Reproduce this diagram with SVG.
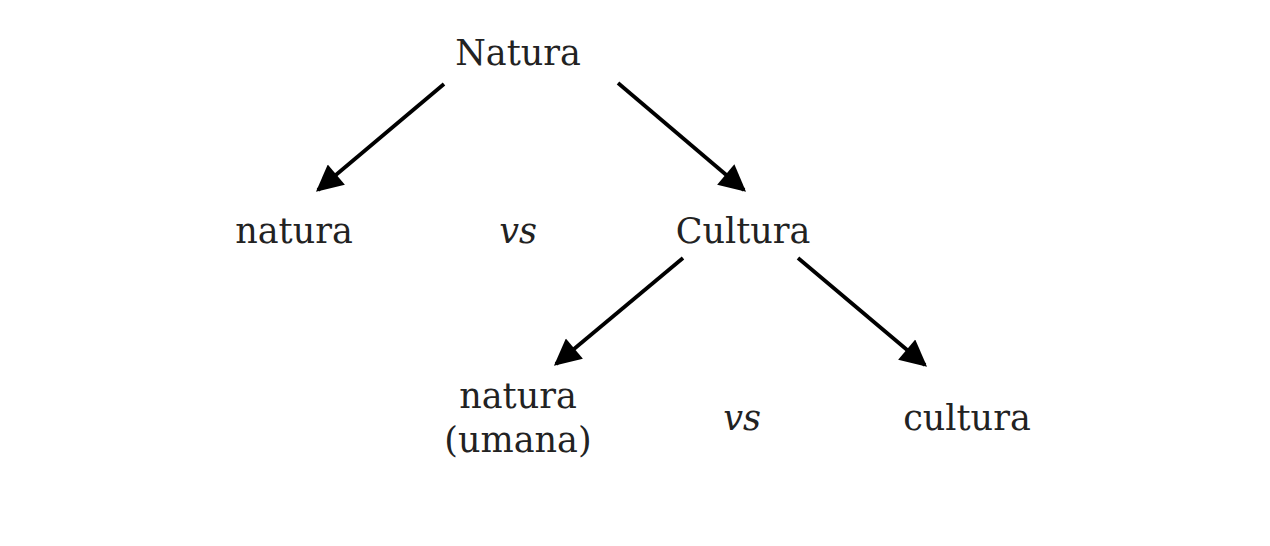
<svg xmlns="http://www.w3.org/2000/svg" width="1270" height="546" viewBox="0 0 1270 546">
<style>
text{font-family:"DejaVu Serif",serif;font-size:35px;fill:#222;text-anchor:middle}
.i{font-style:italic}
.c{stroke:#000;stroke-width:3.8;fill:none}
</style>
<defs>
<marker id="ah" viewBox="0 0 10 10" refX="9" refY="5" markerWidth="7.5" markerHeight="7" markerUnits="strokeWidth" orient="auto">
<path d="M0,0 L10,5 L0,10 z" fill="#000"/>
</marker>
</defs>
<rect width="1270" height="546" fill="#fff"/>
<g id="connectors">
<line class="c" x1="444" y1="84" x2="318" y2="190" marker-end="url(#ah)"/>
<line class="c" x1="618" y1="83" x2="744" y2="190" marker-end="url(#ah)"/>
<line class="c" x1="683" y1="258" x2="556" y2="364" marker-end="url(#ah)"/>
<line class="c" x1="798" y1="258" x2="925" y2="365" marker-end="url(#ah)"/>
</g>
<g id="n-Natura"><text x="518" y="65">Natura</text></g>
<g id="n-natura"><text x="294" y="243">natura</text></g>
<g id="vs1"><text class="i" x="518" y="243">vs</text></g>
<g id="n-Cultura"><text x="743" y="243">Cultura</text></g>
<g id="n-natura-umana"><text x="518" y="408">natura</text><text x="518" y="452">(umana)</text></g>
<g id="vs2"><text class="i" x="742" y="430">vs</text></g>
<g id="n-cultura"><text x="967" y="430">cultura</text></g>
</svg>
